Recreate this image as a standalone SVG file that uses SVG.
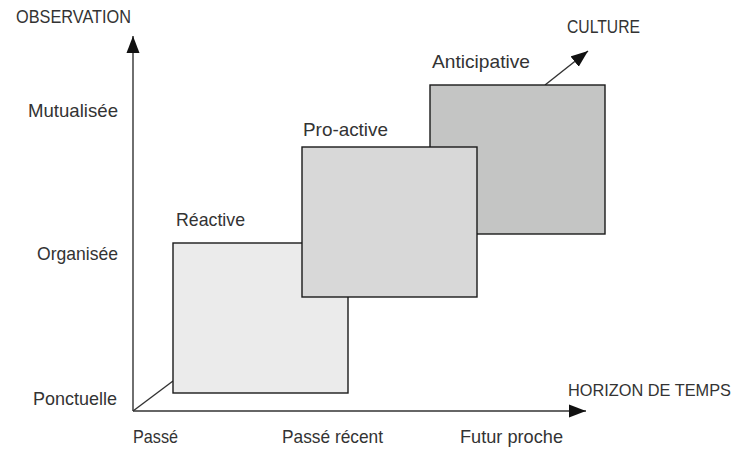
<svg xmlns="http://www.w3.org/2000/svg" width="742" height="451" viewBox="0 0 742 451">
<style>
text{font-family:"Liberation Sans",Arial,sans-serif;font-size:19px;fill:#333}
.box{stroke:#1a1a1a;stroke-width:1.4}
.ax{stroke:#333;stroke-width:1.4;fill:none}
</style>
<defs>
<marker id="ah" markerUnits="userSpaceOnUse" markerWidth="18" markerHeight="14" refX="17" refY="6.5" orient="auto" viewBox="0 0 18 13">
<path d="M0,0 L17,6.5 L0,13 Z" fill="#111"/>
</marker>
</defs>
<g id="connectors">
<line class="ax" x1="133" y1="411" x2="133" y2="36" marker-end="url(#ah)"/>
<line class="ax" x1="133" y1="411" x2="586" y2="411" marker-end="url(#ah)"/>
<line class="ax" x1="133" y1="411" x2="173" y2="381"/>
<line class="ax" x1="545" y1="85" x2="588" y2="51" marker-end="url(#ah)"/>
</g>
<g id="axis-labels">
<text x="16" y="23" textLength="115" lengthAdjust="spacingAndGlyphs">OBSERVATION</text>
<text x="28" y="117" textLength="90" lengthAdjust="spacingAndGlyphs">Mutualisée</text>
<text x="37" y="260" textLength="81" lengthAdjust="spacingAndGlyphs">Organisée</text>
<text x="33" y="405" textLength="84" lengthAdjust="spacingAndGlyphs">Ponctuelle</text>
<text x="133" y="443" textLength="45" lengthAdjust="spacingAndGlyphs">Passé</text>
<text x="282" y="443" textLength="101" lengthAdjust="spacingAndGlyphs">Passé récent</text>
<text x="460" y="443" textLength="103" lengthAdjust="spacingAndGlyphs">Futur proche</text>
<text x="568" y="396" style="font-size:17px" textLength="163" lengthAdjust="spacingAndGlyphs">HORIZON DE TEMPS</text>
<text x="567" y="33" textLength="73" lengthAdjust="spacingAndGlyphs">CULTURE</text>
</g>
<g id="reactive">
<rect class="box" x="173" y="243" width="175" height="150" fill="#ebebeb"/>
<text x="176" y="226" textLength="69" lengthAdjust="spacingAndGlyphs">Réactive</text>
</g>
<g id="anticipative">
<rect class="box" x="430" y="85" width="175" height="149" fill="#c4c5c4"/>
<text x="432" y="68" textLength="98" lengthAdjust="spacingAndGlyphs">Anticipative</text>
</g>
<g id="proactive">
<rect class="box" x="302" y="147" width="175" height="150" fill="#d8d8d8"/>
<text x="303" y="136" textLength="85" lengthAdjust="spacingAndGlyphs">Pro-active</text>
</g>
</svg>
